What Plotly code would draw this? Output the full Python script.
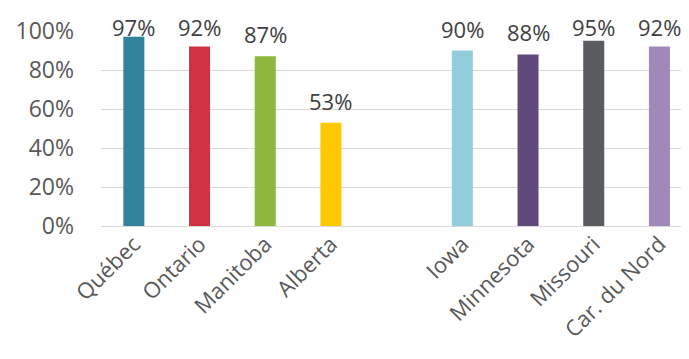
import plotly.graph_objects as go

categories = ["Québec", "Ontario", "Manitoba", "Alberta", " ", "Iowa", "Minnesota", "Missouri", "Car. du Nord"]
values = [97, 92, 87, 53, None, 90, 88, 95, 92]
labels = ["97%", "92%", "87%", "53%", "", "90%", "88%", "95%", "92%"]
colors = ["#31849B", "#D13241", "#8DB83D", "#FFC800", "#FFFFFF", "#92CDDC", "#604A7B", "#5A5B5E", "#A088B8"]
y_ticks = [0, 20, 40, 60, 80, 100]
y_tick_text = ["0%", "20%", "40%", "60%", "80%", "100%"]

FONT = "Open Sans"
PLOT_H = 195          # plot area height in px
Y_MAX = 100
px_per_unit = PLOT_H / Y_MAX
label_gap_px = 22     # distance from bar top to label centre
label_cap = 102       # labels never go above this level

fig = go.Figure()
fig.add_trace(go.Bar(
    x=categories, y=values, marker=dict(color=colors, line=dict(width=0)),
    width=0.32, showlegend=False, hoverinfo="skip",
))

for c, v, t in zip(categories, values, labels):
    if v is None:
        continue
    fig.add_annotation(
        x=c, y=v, xref="x", yref="y",
        yshift=min(label_gap_px, (label_cap - v) * px_per_unit),
        text=t, showarrow=False, xanchor="center", yanchor="middle",
        borderpad=0,
        font=dict(family=FONT, size=22, color="#404040"),
    )

# page body has an 8px default margin, so the figure is 8px smaller
fig.update_layout(
    width=681, height=351,
    margin=dict(l=93, r=0, t=23, b=351 - 23 - PLOT_H),
    paper_bgcolor="white", plot_bgcolor="white",
    font=dict(family=FONT, color="#595959", size=23),
    xaxis=dict(
        type="category", categoryorder="array", categoryarray=categories,
        tickangle=-45, showgrid=False, showline=False, ticks="",
        tickfont=dict(family=FONT, size=22, color="#595959"),
        range=[-0.5, 8.45], fixedrange=True, automargin=False,
    ),
    yaxis=dict(
        range=[0, Y_MAX], tickvals=y_ticks, ticktext=y_tick_text,
        showgrid=True, gridcolor="#D9D9D9", gridwidth=1,
        zeroline=True, zerolinecolor="#D9D9D9", zerolinewidth=1,
        showline=False, ticks="", ticklabelstandoff=26,
        tickfont=dict(family=FONT, size=23, color="#595959"),
        fixedrange=True, automargin=False,
    ),
)

fig.write_html("out.html")
